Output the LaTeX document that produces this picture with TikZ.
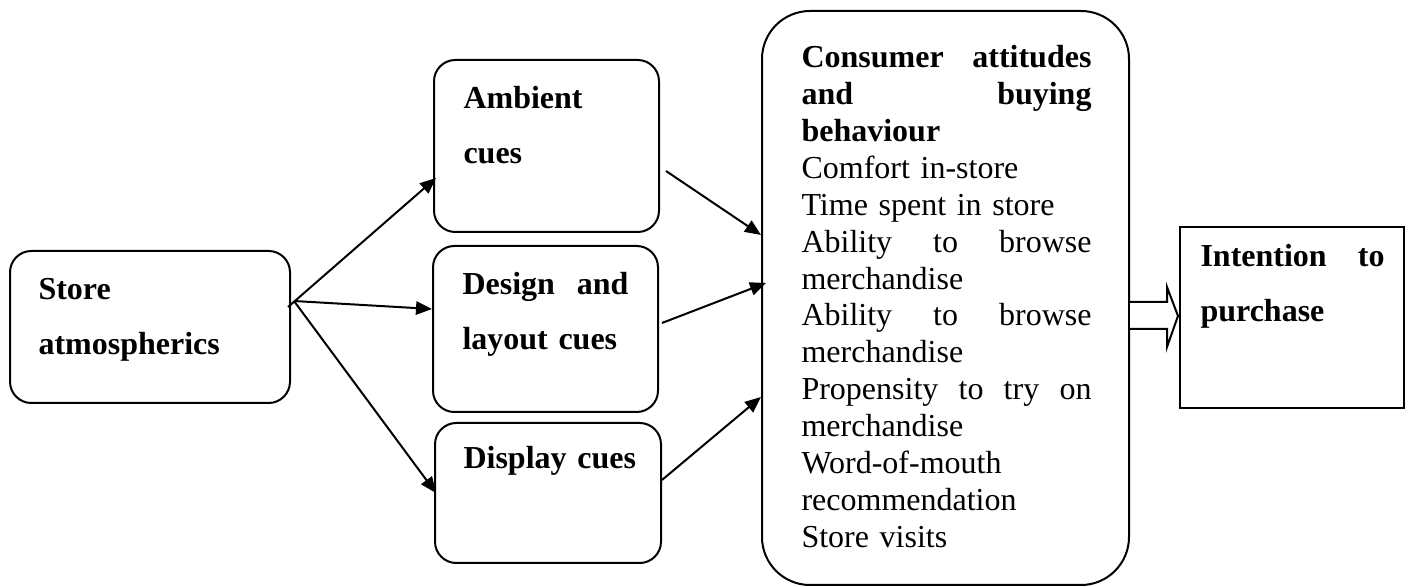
\documentclass[tikz,border=0pt]{standalone}
\usepackage{fontspec}
\setmainfont{Liberation Serif}
\usetikzlibrary{calc,fit,arrows.meta}
\begin{document}
\begin{tikzpicture}[x=0.375pt,y=-0.375pt,
  rbox/.style={draw, line width=0.75pt, rounded corners=8pt, inner sep=0pt},
  lbl/.style={inner sep=0pt, anchor=base west, align=left, text width=100pt,
    font=\fontsize{12}{20.3}\selectfont\bfseries},
  body/.style={inner sep=0pt, anchor=base west, align=left, text width=108.75pt,
    font=\fontsize{12}{13.82}\selectfont},
  link/.style={line width=0.75pt, -{Triangle[length=6pt,width=5pt]}}]
\useasboundingbox (0,0) rectangle (1413,587);

% boxes
\node[rbox, fit={(10,251) (290,403)}] (store) {};
\node[rbox, fit={(434,60) (659,232)}] (amb) {};
\node[rbox, fit={(433,246) (658,412)}] (des) {};
\node[rbox, fit={(435,423) (661,563)}] (disp) {};
\node[rbox, rounded corners=18pt, fit={(762,11) (1129,585)}] (big) {};
\node[draw, line width=0.75pt, inner sep=0pt, fit={(1180,227) (1404,408)}] (int) {};

% texts
\node[lbl] (storet) at (38,300) {Store\\atmospherics};
\node[lbl] (ambt) at (463,109) {Ambient\\cues};
\node[lbl, text width=62.25pt] (dest) at (462,295) {Design\hfill and\\layout cues};
\node[lbl] (dispt) at (463,469) {Display cues};
\node[lbl, text width=69pt] (intt) at (1200,267) {Intention\hfill to\\purchase};
\node[body] (bigt) at (801,68) {\textbf{Consumer\hfill attitudes}\\
\textbf{and\hfill buying}\\
\textbf{behaviour}\\
Comfort in-store\\
Time spent in store\\
Ability\hfill to\hfill browse\\
merchandise\\
Ability\hfill to\hfill browse\\
merchandise\\
Propensity\hfill to\hfill try\hfill on\\
merchandise\\
Word-of-mouth\\
recommendation\\
Store visits};

% connectors
\coordinate (fork) at ($(store.east)+(3,-26)$);
\draw[link] ($(store.east)+(-3,-20)$) -- ($(amb.west)+(3,32)$);
\draw[link] (fork) -- ($(des.west)+(0,-20)$);
\draw[link] (fork) -- ($(disp.west)+(2,0)$);
\draw[link] ($(amb.east)+(6,25)$) -- ($(big.west)+(0,-63)$);
\draw[link] ($(des.east)+(3,-6)$) -- ($(big.west)+(5,-15)$);
\draw[link] ($(disp.east)+(0,-13)$) -- ($(big.west)+(0,99)$);

% block arrow
\draw[line width=0.75pt, fill=white] ($(big.east)+(0,4)$) -- ++(37,0) -- ++(0,-15)
  -- ($(int.west)+(-1,-1.5)$) -- ($(big.east)+(37,49)$) -- ++(0,-18)
  -- ($(big.east)+(0,31)$);
\end{tikzpicture}
\end{document}
